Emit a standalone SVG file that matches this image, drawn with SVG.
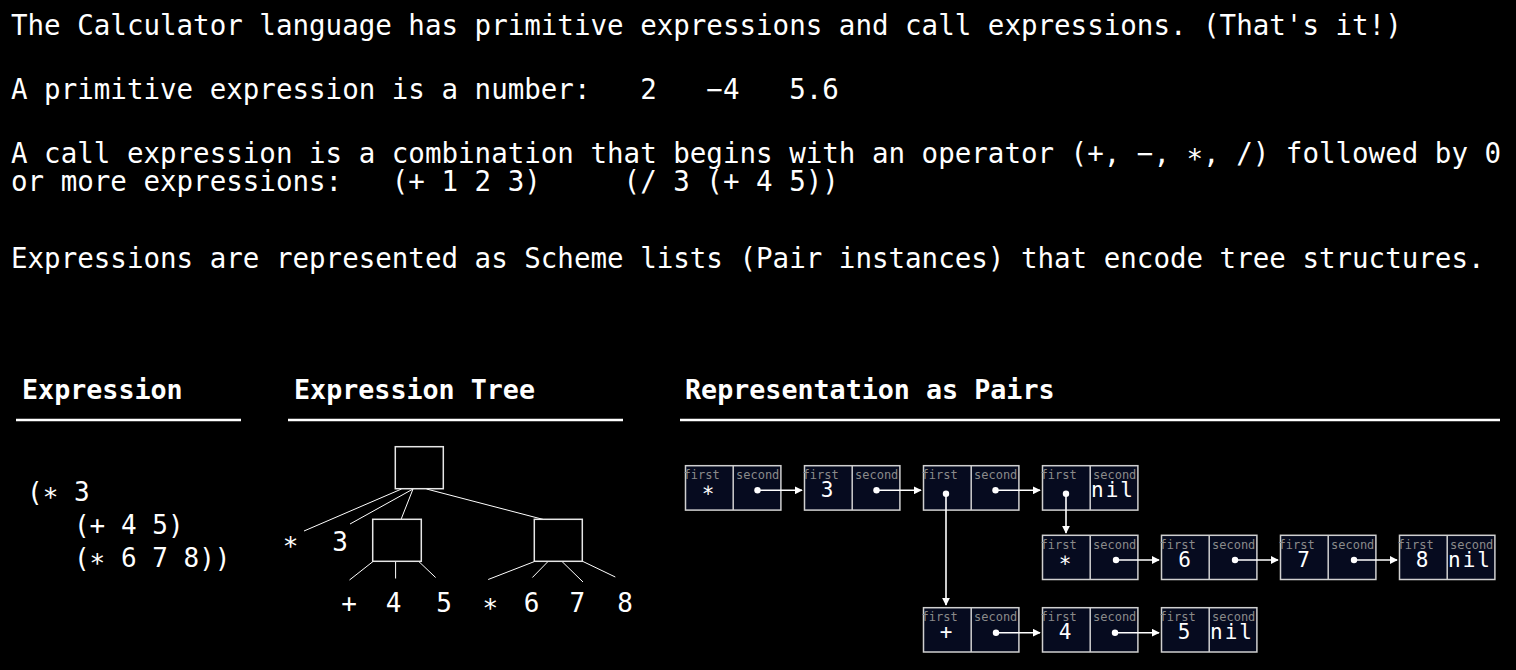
<svg xmlns="http://www.w3.org/2000/svg" width="1516" height="670" viewBox="0 0 1516 670" xml:space="preserve">
<defs>
<style>
text{font-family:"DejaVu Sans Mono","Liberation Mono",monospace;fill:#fff;white-space:pre}
.body{font-size:27.5px}
.head{font-size:26.7px;font-weight:bold}
.expr{font-size:26px}
.leaf{font-size:26px;text-anchor:middle}
.lbl{font-size:12px;fill:#8a8a8a}
.val{font-size:21px;text-anchor:middle}
.nil{font-size:21px;letter-spacing:2px}
.pair rect{fill:#060b1f;stroke:#d0d0d0;stroke-width:1.5}
.pair line{stroke:#d0d0d0;stroke-width:1.5}
.tbox{fill:#000;stroke:#e6e6e6;stroke-width:1.5}
.tl{stroke:#fff;stroke-width:1}
.ul{stroke:#fff;stroke-width:2.6}
.arr{stroke:#fff;stroke-width:1.6;fill:none;marker-end:url(#ah)}
.dot{fill:#fff}
</style>
<marker id="ah" viewBox="0 0 10 10" refX="9" refY="5" markerWidth="5" markerHeight="5" markerUnits="strokeWidth" orient="auto">
<path d="M0,0 L10,5 L0,10 Z" fill="#fff"/>
</marker>
</defs>
<rect x="0" y="0" width="1516" height="670" fill="#000"/>

<g id="intro">
<text class="body" x="11" y="35">The Calculator language has primitive expressions and call expressions. (That's it!)</text>
<text class="body" x="11" y="99">A primitive expression is a number:   2   −4   5.6</text>
<text class="body" x="11" y="163">A call expression is a combination that begins with an operator (+, −, ∗, /) followed by 0</text>
<text class="body" x="11" y="191">or more expressions:   (+ 1 2 3)     (/ 3 (+ 4 5))</text>
<text class="body" x="11" y="268">Expressions are represented as Scheme lists (Pair instances) that encode tree structures.</text>
</g>

<g id="headings">
<text class="head" x="22" y="399">Expression</text>
<line class="ul" x1="16" y1="420" x2="241" y2="420"/>
<text class="head" x="294" y="399">Expression Tree</text>
<line class="ul" x1="288" y1="420" x2="623" y2="420"/>
<text class="head" x="685" y="399">Representation as Pairs</text>
<line class="ul" x1="680" y1="420" x2="1500" y2="420"/>
</g>

<g id="expression">
<text class="expr" x="27" y="501">(∗ 3</text>
<text class="expr" x="27" y="534">   (+ 4 5)</text>
<text class="expr" x="27" y="567">   (∗ 6 7 8))</text>
</g>

<g id="tree-edges">
<line class="tl" x1="401.5" y1="489" x2="304" y2="531"/>
<line class="tl" x1="413" y1="489" x2="350" y2="524"/>
<line class="tl" x1="413" y1="489" x2="401" y2="519.5"/>
<line class="tl" x1="426.5" y1="489" x2="543.5" y2="519.5"/>
<line class="tl" x1="373" y1="561.5" x2="349.5" y2="580"/>
<line class="tl" x1="395.6" y1="561.5" x2="395.6" y2="578.5"/>
<line class="tl" x1="418.8" y1="561.5" x2="435.6" y2="577.5"/>
<line class="tl" x1="534.5" y1="561.5" x2="488.2" y2="579.5"/>
<line class="tl" x1="548" y1="561.5" x2="532.4" y2="577.5"/>
<line class="tl" x1="562" y1="561.5" x2="583" y2="582"/>
<line class="tl" x1="583" y1="561.5" x2="615.3" y2="577"/>
</g>
<g id="tree-root"><rect class="tbox" x="395.3" y="446.7" width="48" height="42"/></g>
<g id="tree-left"><rect class="tbox" x="372.7" y="519.3" width="48.6" height="42"/></g>
<g id="tree-right"><rect class="tbox" x="534.3" y="519.3" width="48" height="42"/></g>
<g id="tree-leaves">
<text class="leaf" x="290.5" y="550">∗</text>
<text class="leaf" x="340" y="551">3</text>
<text class="leaf" x="349" y="612">+</text>
<text class="leaf" x="393.5" y="612">4</text>
<text class="leaf" x="444" y="612">5</text>
<text class="leaf" x="490.3" y="612">∗</text>
<text class="leaf" x="531.6" y="612">6</text>
<text class="leaf" x="577.4" y="612">7</text>
<text class="leaf" x="625" y="612">8</text>
</g>

<g id="p1" class="pair"><rect x="685.5" y="465.7" width="95.4" height="44.4"/><line x1="733.2" y1="465.7" x2="733.2" y2="510.1"/><text class="lbl" x="683.5" y="479">first</text><text class="lbl" x="736" y="479">second</text><text class="val" x="708" y="497.3">∗</text></g>
<g id="p2" class="pair"><rect x="804.5" y="465.7" width="95.4" height="44.4"/><line x1="852.2" y1="465.7" x2="852.2" y2="510.1"/><text class="lbl" x="802.5" y="479">first</text><text class="lbl" x="855" y="479">second</text><text class="val" x="827" y="497.3">3</text></g>
<g id="p3" class="pair"><rect x="923.5" y="465.7" width="95.4" height="44.4"/><line x1="971.2" y1="465.7" x2="971.2" y2="510.1"/><text class="lbl" x="921.5" y="479">first</text><text class="lbl" x="974" y="479">second</text></g>
<g id="p4" class="pair"><rect x="1042.5" y="465.7" width="95.4" height="44.4"/><line x1="1090.2" y1="465.7" x2="1090.2" y2="510.1"/><text class="lbl" x="1040.5" y="479">first</text><text class="lbl" x="1093" y="479">second</text><text class="nil" x="1091" y="497.3">nil</text></g>

<g id="p5" class="pair"><rect x="1042.5" y="535.3" width="95.4" height="44.2"/><line x1="1090.2" y1="535.3" x2="1090.2" y2="579.5"/><text class="lbl" x="1040.5" y="548.6">first</text><text class="lbl" x="1093" y="548.6">second</text><text class="val" x="1065" y="566.8">∗</text></g>
<g id="p6" class="pair"><rect x="1161.5" y="535.3" width="95.4" height="44.2"/><line x1="1209.2" y1="535.3" x2="1209.2" y2="579.5"/><text class="lbl" x="1159.5" y="548.6">first</text><text class="lbl" x="1212" y="548.6">second</text><text class="val" x="1184.5" y="566.8">6</text></g>
<g id="p7" class="pair"><rect x="1280.5" y="535.3" width="95.4" height="44.2"/><line x1="1328.2" y1="535.3" x2="1328.2" y2="579.5"/><text class="lbl" x="1278.5" y="548.6">first</text><text class="lbl" x="1331" y="548.6">second</text><text class="val" x="1303.5" y="566.8">7</text></g>
<g id="p8" class="pair"><rect x="1399.5" y="535.3" width="95.4" height="44.2"/><line x1="1447.2" y1="535.3" x2="1447.2" y2="579.5"/><text class="lbl" x="1397.5" y="548.6">first</text><text class="lbl" x="1450" y="548.6">second</text><text class="val" x="1422" y="566.8">8</text><text class="nil" x="1448" y="566.8">nil</text></g>

<g id="p9" class="pair"><rect x="923.5" y="607.7" width="95.4" height="44.3"/><line x1="971.2" y1="607.7" x2="971.2" y2="652"/><text class="lbl" x="921.5" y="621">first</text><text class="lbl" x="974" y="621">second</text><text class="val" x="946" y="639.2">+</text></g>
<g id="p10" class="pair"><rect x="1042.5" y="607.7" width="95.4" height="44.3"/><line x1="1090.2" y1="607.7" x2="1090.2" y2="652"/><text class="lbl" x="1040.5" y="621">first</text><text class="lbl" x="1093" y="621">second</text><text class="val" x="1065" y="639.2">4</text></g>
<g id="p11" class="pair"><rect x="1161.5" y="607.7" width="95.4" height="44.3"/><line x1="1209.2" y1="607.7" x2="1209.2" y2="652"/><text class="lbl" x="1159.5" y="621">first</text><text class="lbl" x="1212" y="621">second</text><text class="val" x="1184" y="639.2">5</text><text class="nil" x="1210" y="639.2">nil</text></g>

<g id="connectors">
<circle class="dot" cx="757.5" cy="490.3" r="3.2"/><line class="arr" x1="757.5" y1="490.3" x2="802" y2="490.3"/>
<circle class="dot" cx="876.5" cy="490.3" r="3.2"/><line class="arr" x1="876.5" y1="490.3" x2="921" y2="490.3"/>
<circle class="dot" cx="995.5" cy="490.3" r="3.2"/><line class="arr" x1="995.5" y1="490.3" x2="1040" y2="490.3"/>
<circle class="dot" cx="946" cy="493.7" r="3.2"/><line class="arr" x1="946" y1="493.7" x2="946" y2="605"/>
<circle class="dot" cx="1066" cy="493.7" r="3.2"/><line class="arr" x1="1066" y1="493.7" x2="1066" y2="533"/>
<circle class="dot" cx="1116" cy="560" r="3.2"/><line class="arr" x1="1116" y1="560" x2="1159" y2="560"/>
<circle class="dot" cx="1235" cy="560" r="3.2"/><line class="arr" x1="1235" y1="560" x2="1278" y2="560"/>
<circle class="dot" cx="1354" cy="560" r="3.2"/><line class="arr" x1="1354" y1="560" x2="1397" y2="560"/>
<circle class="dot" cx="996" cy="632.7" r="3.2"/><line class="arr" x1="996" y1="632.7" x2="1040" y2="632.7"/>
<circle class="dot" cx="1115" cy="632.7" r="3.2"/><line class="arr" x1="1115" y1="632.7" x2="1159" y2="632.7"/>
</g>
</svg>
